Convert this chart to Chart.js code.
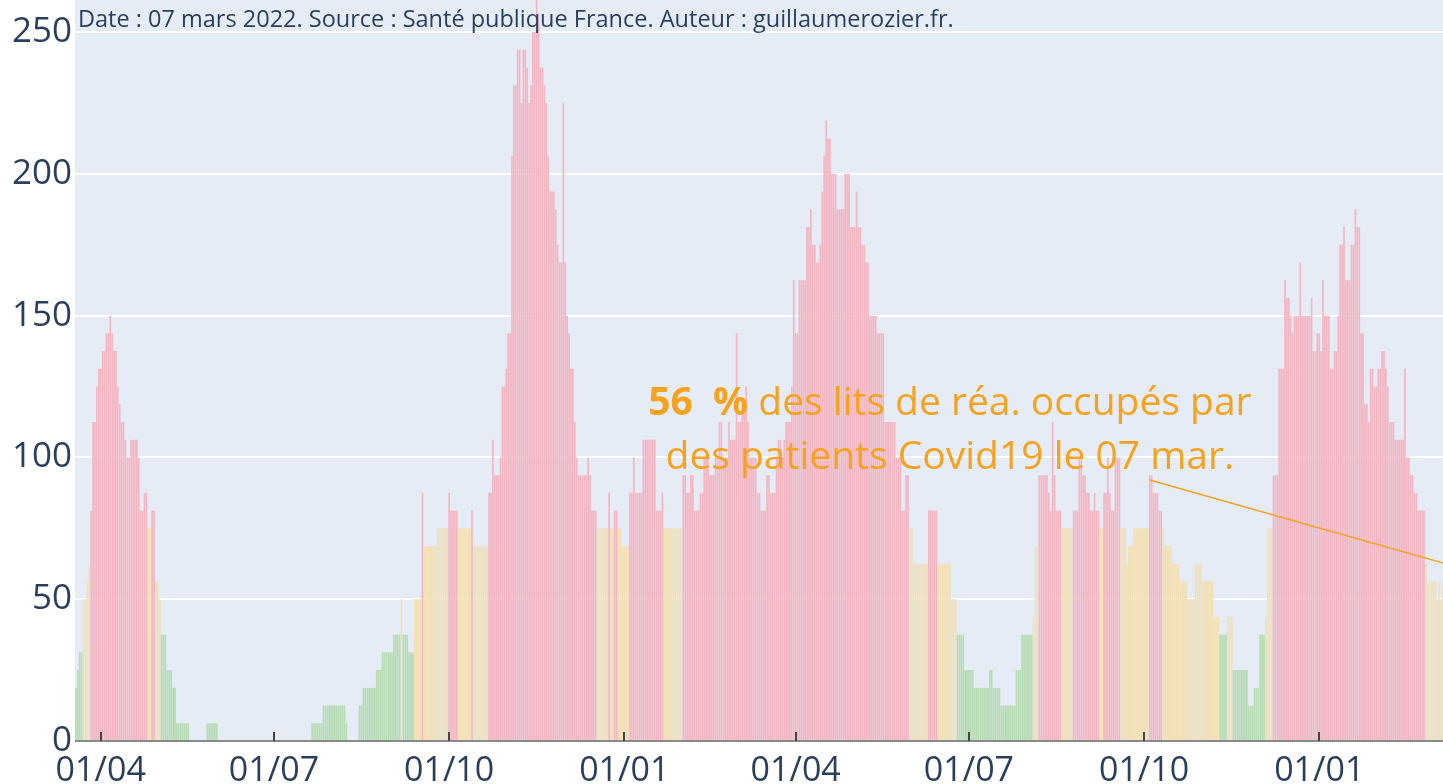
<!DOCTYPE html>
<html>
<head>
<meta charset="utf-8">
<title>Taux d'occupation des lits de réanimation</title>
<script src="https://cdn.jsdelivr.net/npm/chart.js@4.4.1/dist/chart.umd.min.js"></script>
<style>
    html, body { margin: 0; padding: 0; background: #ffffff; }
    #wrap { width: 1443px; height: 784px; position: relative; }
</style>
</head>
<body>
<div id="wrap"><canvas id="chart"></canvas></div>
<script>
// Daily ICU occupancy (%) starting on 19 March 2020, one value per day
const occ2020 = [
    18.75, 25, 31.25, 31.25, 50, 50, 56.25, 62.5, 81.25, 112.5,
    112.5, 125, 131.25, 131.25, 137.5, 137.5, 143.75, 143.75, 150, 143.75,
    137.5, 137.5, 125, 118.75, 112.5, 112.5, 106.25, 100, 100, 106.25,
    106.25, 106.25, 106.25, 100, 81.25, 81.25, 87.5, 87.5, 75, 75,
    81.25, 81.25, 56.25, 56.25, 50, 37.5, 37.5, 37.5, 25, 25,
    25, 18.75, 18.75, 6.25, 6.25, 6.25, 6.25, 6.25, 6.25, 6.25,
    0, 0, 0, 0, 0, 0, 0, 0, 0, 6.25,
    6.25, 6.25, 6.25, 6.25, 6.25, 0, 0, 0, 0, 0,
    0, 0, 0, 0, 0, 0, 0, 0, 0, 0,
    0, 0, 0, 0, 0, 0, 0, 0, 0, 0,
    0, 0, 0, 0, 0, 0, 0, 0, 0, 0,
    0, 0, 0, 0, 0, 0, 0, 0, 0, 0,
    0, 0, 0, 0, 6.25, 6.25, 6.25, 6.25, 6.25, 6.25,
    12.5, 12.5, 12.5, 12.5, 12.5, 12.5, 12.5, 12.5, 12.5, 12.5,
    12.5, 12.5, 6.25, 0, 0, 0, 0, 0, 0, 12.5,
    12.5, 18.75, 18.75, 18.75, 18.75, 18.75, 18.75, 18.75, 25, 25,
    25, 31.25, 31.25, 31.25, 31.25, 31.25, 31.25, 37.5, 37.5, 37.5,
    37.5, 50, 37.5, 37.5, 37.5, 31.25, 31.25, 31.25, 50, 50,
    50, 50, 87.5, 68.75, 68.75, 68.75, 68.75, 68.75, 68.75, 68.75,
    75, 75, 75, 75, 75, 75, 87.5, 81.25, 81.25, 81.25,
    81.25, 75, 75, 75, 75, 75, 75, 75, 81.25, 68.75,
    68.75, 68.75, 68.75, 68.75, 68.75, 68.75, 68.75, 87.5, 87.5, 106.25,
    93.75, 93.75, 93.75, 100, 125, 125, 131.25, 143.75, 143.75, 206.25,
    231.25, 231.25, 243.75, 243.75, 225, 243.75, 243.75, 237.5, 225, 231.25,
    250, 250, 262.5, 256.25, 237.5, 237.5, 231.25, 225, 206.25, 193.75,
    193.75, 193.75, 187.5, 175, 168.75, 168.75, 225, 168.75, 150, 143.75,
    131.25, 131.25, 112.5, 100, 93.75, 93.75, 93.75, 93.75, 93.75, 100,
    93.75, 81.25, 81.25, 81.25, 75, 75, 75, 75, 75, 75,
    87.5, 75, 75, 81.25, 81.25, 75, 75, 68.75
];
const occ2021 = [
    68.75, 68.75,
    68.75, 87.5, 87.5, 100, 87.5, 87.5, 87.5, 87.5, 106.25, 106.25,
    106.25, 106.25, 106.25, 106.25, 106.25, 81.25, 81.25, 81.25, 87.5, 75,
    75, 75, 75, 75, 75, 75, 75, 75, 75, 93.75,
    93.75, 87.5, 87.5, 93.75, 93.75, 81.25, 81.25, 81.25, 87.5, 87.5,
    100, 100, 100, 93.75, 93.75, 93.75, 100, 100, 112.5, 112.5,
    100, 100, 100, 112.5, 106.25, 106.25, 106.25, 143.75, 112.5, 112.5,
    118.75, 118.75, 125, 112.5, 100, 100, 100, 100, 87.5, 87.5,
    81.25, 81.25, 81.25, 93.75, 93.75, 87.5, 87.5, 87.5, 100, 106.25,
    106.25, 100, 106.25, 112.5, 112.5, 112.5, 125, 162.5, 143.75, 143.75,
    162.5, 162.5, 162.5, 162.5, 181.25, 181.25, 187.5, 175, 175, 168.75,
    168.75, 175, 193.75, 206.25, 218.75, 212.5, 212.5, 200, 200, 200,
    187.5, 187.5, 187.5, 187.5, 200, 200, 200, 181.25, 181.25, 181.25,
    193.75, 181.25, 181.25, 175, 175, 168.75, 168.75, 150, 150, 150,
    150, 143.75, 143.75, 143.75, 143.75, 112.5, 112.5, 112.5, 112.5, 112.5,
    112.5, 100, 100, 100, 81.25, 81.25, 93.75, 93.75, 75, 75,
    62.5, 62.5, 62.5, 62.5, 62.5, 62.5, 62.5, 62.5, 81.25, 81.25,
    81.25, 81.25, 81.25, 62.5, 62.5, 62.5, 62.5, 62.5, 62.5, 62.5,
    50, 50, 50, 37.5, 37.5, 37.5, 37.5, 25, 25, 25,
    25, 25, 18.75, 18.75, 18.75, 18.75, 18.75, 18.75, 18.75, 18.75,
    25, 25, 18.75, 18.75, 18.75, 18.75, 12.5, 12.5, 12.5, 12.5,
    12.5, 12.5, 12.5, 12.5, 25, 25, 25, 37.5, 37.5, 37.5,
    37.5, 37.5, 37.5, 43.75, 68.75, 68.75, 93.75, 93.75, 93.75, 93.75,
    93.75, 87.5, 81.25, 112.5, 93.75, 81.25, 81.25, 81.25, 75, 75,
    75, 75, 75, 75, 81.25, 81.25, 81.25, 100, 100, 93.75,
    93.75, 87.5, 87.5, 81.25, 81.25, 87.5, 81.25, 81.25, 75, 75,
    87.5, 87.5, 100, 87.5, 81.25, 81.25, 100, 100, 100, 75,
    75, 75, 62.5, 68.75, 68.75, 68.75, 75, 75, 75, 75,
    75, 75, 75, 75, 93.75, 93.75, 87.5, 87.5, 87.5, 81.25,
    81.25, 75, 68.75, 68.75, 68.75, 68.75, 62.5, 62.5, 62.5, 62.5,
    56.25, 56.25, 56.25, 56.25, 50, 50, 50, 50, 62.5, 62.5,
    62.5, 62.5, 56.25, 56.25, 56.25, 56.25, 56.25, 56.25, 43.75, 43.75,
    43.75, 37.5, 37.5, 37.5, 37.5, 43.75, 43.75, 43.75, 25, 25,
    25, 25, 25, 25, 25, 25, 12.5, 12.5, 12.5, 18.75,
    18.75, 18.75, 37.5, 37.5, 37.5, 43.75, 75, 75, 75, 93.75,
    93.75, 93.75, 131.25, 131.25, 131.25, 162.5, 156.25, 156.25, 150, 143.75,
    150, 150, 150, 168.75, 150, 150, 150, 150, 150, 156.25,
    137.5, 137.5, 143.75
];
const occ2022 = [
    143.75, 137.5, 162.5, 150, 150, 150, 131.25,
    131.25, 137.5, 137.5, 150, 175, 175, 181.25, 162.5, 162.5, 162.5,
    175, 175, 187.5, 181.25, 181.25, 143.75, 143.75, 118.75, 118.75, 112.5,
    131.25, 131.25, 125, 125, 131.25, 131.25, 137.5, 137.5, 131.25, 125,
    112.5, 112.5, 112.5, 106.25, 106.25, 106.25, 106.25, 106.25, 131.25, 100,
    100, 93.75, 93.75, 87.5, 87.5, 81.25, 81.25, 81.25, 81.25, 62.5,
    56.25, 56.25, 56.25, 56.25, 56.25, 50, 56.25, 50, 56.25
];
const occupation = [...occ2020, ...occ2021, ...occ2022];

// x ticks: day index (from 19/03/2020) and label
const tickDays = [13, 104, 196, 288, 378, 469, 561, 653];
const tickLabels = ['01/04', '01/07', '01/10', '01/01', '01/04', '01/07', '01/10', '01/01'];
const yTicks = [0, 50, 100, 150, 200, 250];

const headerText = 'Date : 07 mars 2022. Source : Santé publique France. Auteur : guillaumerozier.fr.';
const noteBold = '56  %';
const noteLine1 = ' des lits de réa. occupés par';
const noteLine2 = 'des patients Covid19 le 07 mar.';

const COLORS = {
    red: '#f3b7c4',
    yellow: '#f1e0b8',
    green: '#b8dcb5',
    plotBg: '#e5ecf6',
    text: '#2a3f5f',
    orange: '#f5a31f'
};

function barColor(v) {
    if (v >= 80) return COLORS.red;
    if (v >= 40) return COLORS.yellow;
    return COLORS.green;
}

const decorations = {
    id: 'decorations',
    beforeDraw(chart) {
        const { ctx, chartArea: a } = chart;
        ctx.save();
        ctx.fillStyle = COLORS.plotBg;
        ctx.fillRect(a.left, a.top, a.right - a.left, a.bottom - a.top);
        ctx.restore();
    },
    afterDatasetsDraw(chart) {
        const { ctx, chartArea: a, scales: { x, y } } = chart;
        ctx.save();

        // small inside ticks on the baseline
        ctx.strokeStyle = '#444444';
        ctx.lineWidth = 2;
        tickDays.forEach(d => {
            const px = Math.round(x.getPixelForValue(d));
            ctx.beginPath();
            ctx.moveTo(px, a.bottom);
            ctx.lineTo(px, a.bottom - 9);
            ctx.stroke();
        });

        // header
        ctx.fillStyle = COLORS.text;
        ctx.font = "23.5px 'Open Sans'";
        ctx.textBaseline = 'middle';
        ctx.textAlign = 'left';
        ctx.fillText(headerText, a.left + 3, 20);

        // annotation arrow
        ctx.strokeStyle = COLORS.orange;
        ctx.lineWidth = 1.6;
        ctx.beginPath();
        ctx.moveTo(x.getPixelForValue(564), y.getPixelForValue(92));
        ctx.lineTo(x.getPixelForValue(730), y.getPixelForValue(60.5));
        ctx.stroke();

        // annotation text
        const size = 39;
        const cx = x.getPixelForValue(459);
        ctx.fillStyle = COLORS.orange;
        ctx.font = `bold ${size}px 'Open Sans'`;
        const wBold = ctx.measureText(noteBold).width;
        ctx.font = `${size}px 'Open Sans'`;
        const wRest = ctx.measureText(noteLine1).width;
        const sx = cx - (wBold + wRest) / 2;
        const y1 = y.getPixelForValue(119);
        ctx.font = `bold ${size}px 'Open Sans'`;
        ctx.fillText(noteBold, sx, y1);
        ctx.font = `${size}px 'Open Sans'`;
        ctx.fillText(noteLine1, sx + wBold, y1);
        ctx.textAlign = 'center';
        ctx.fillText(noteLine2, cx, y.getPixelForValue(100));

        ctx.restore();
    }
};

new Chart(document.getElementById('chart'), {
    type: 'bar',
    data: {
        datasets: [{
            data: occupation.map((v, i) => ({ x: i, y: v })),
            backgroundColor: occupation.map(barColor),
            borderWidth: 0,
            barPercentage: 0.92,
            categoryPercentage: 1
        }]
    },
    options: {
        responsive: true,
        maintainAspectRatio: false,
        animation: false,
        devicePixelRatio: 1,
        layout: { padding: 0 },
        plugins: {
            legend: { display: false },
            tooltip: { enabled: false }
        },
        scales: {
            x: {
                type: 'linear',
                min: -0.5,
                max: 718,
                offset: false,
                grid: { display: false },
                border: { display: false },
                afterBuildTicks: s => { s.ticks = tickDays.map(v => ({ value: v })); },
                afterFit: s => { s.height = 43; s.paddingLeft = 0; s.paddingRight = 0; },
                ticks: {
                    autoSkip: false,
                    maxRotation: 0,
                    padding: 2,
                    color: COLORS.text,
                    font: { family: "'Open Sans'", size: 34 },
                    callback: v => tickLabels[tickDays.indexOf(v)]
                }
            },
            y: {
                min: 0,
                max: 261.3,
                grid: {
                    color: c => c.tick.value === 0 ? '#8a8a8a' : '#ffffff',
                    lineWidth: 2,
                    drawTicks: false
                },
                border: { display: false },
                afterBuildTicks: s => { s.ticks = yTicks.map(v => ({ value: v })); },
                afterFit: s => { s.width = 75; s.paddingTop = 0; s.paddingBottom = 0; },
                ticks: {
                    padding: 3,
                    color: COLORS.text,
                    font: { family: "'Open Sans'", size: 35 },
                    callback: v => v
                }
            }
        }
    },
    plugins: [decorations]
});
</script>
</body>
</html>
